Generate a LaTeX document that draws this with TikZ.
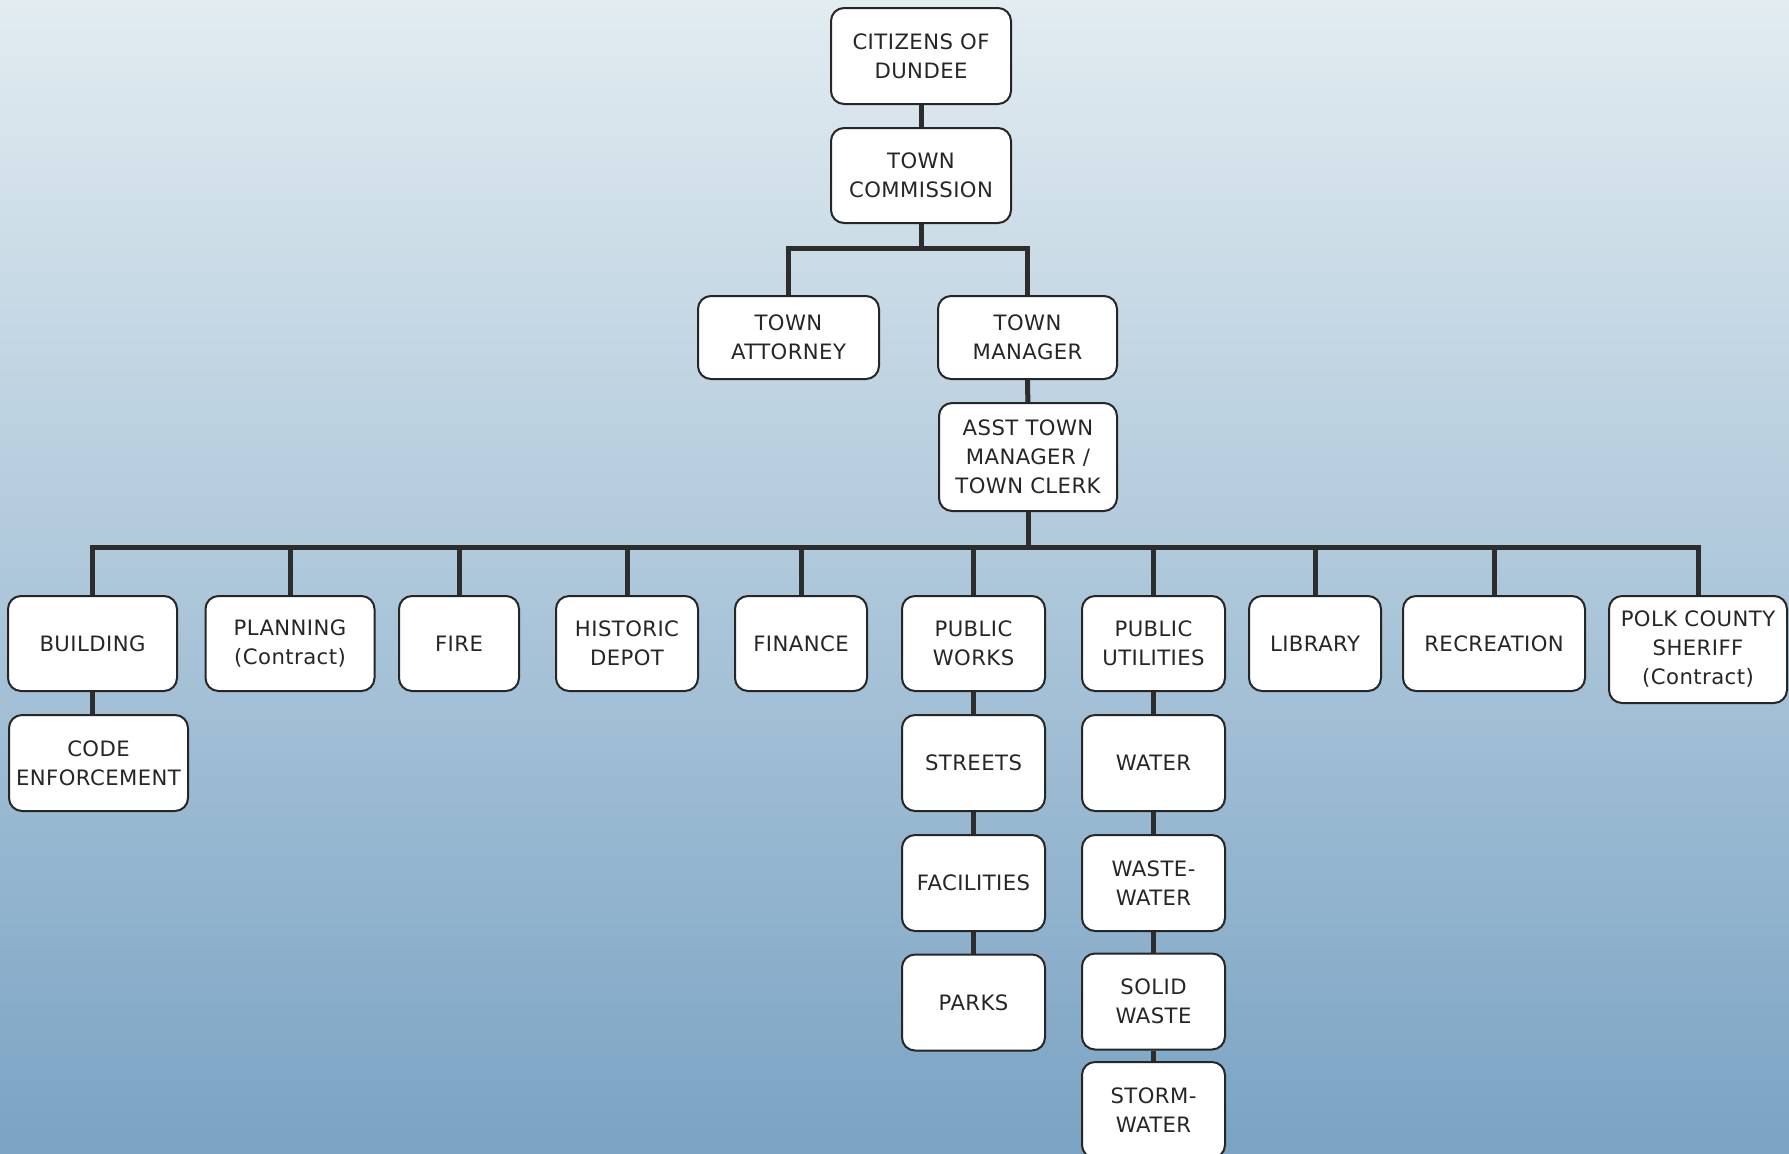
\documentclass[tikz,border=0pt]{standalone}
\usepackage{fontspec}
\setmainfont{DejaVu Sans}[LetterSpace=2]
\usepackage{xcolor}
\usepackage{tikz}

\definecolor{skytop}{RGB}{226,236,241}
\definecolor{skymid}{RGB}{172,198,215}
\definecolor{skybot}{RGB}{122,163,196}
\definecolor{linkgray}{RGB}{45,45,45}

\tikzset{
unit/.style={draw=black!85, line width=1pt, fill=white, rounded corners=6.5pt, align=center, inner sep=0pt, text=black!85, font=\fontsize{10.6}{14.5}\selectfont},
link/.style={draw=linkgray, line width=2.5pt}
}

\begin{document}
\begin{tikzpicture}[x=0.5pt,y=-0.5pt]
\fill[top color=skytop, middle color=skymid, bottom color=skybot] (0,0) rectangle (1789,1153);
\useasboundingbox (0,0) rectangle (1789,1153);

\node[unit, minimum width=90pt, minimum height=48pt] (citizens) at (921,56) {CITIZENS OF\\DUNDEE};
\node[unit, minimum width=90pt, minimum height=47.5pt] (commission) at (921,175.5) {TOWN\\COMMISSION};
\node[unit, minimum width=90.5pt, minimum height=41.5pt] (attorney) at (788.5,337.5) {TOWN\\ATTORNEY};
\node[unit, minimum width=89.5pt, minimum height=41.5pt] (manager) at (1027.5,337.5) {TOWN\\MANAGER};
\node[unit, minimum width=89pt, minimum height=54pt] (asst) at (1028,457) {ASST TOWN\\MANAGER /\\TOWN CLERK};

\foreach \n/\x/\w/\t in {building/92.5/169/BUILDING, planning/290/169/{PLANNING\\(Contract)}, fire/459/120/FIRE, depot/627/142/{HISTORIC\\DEPOT}, finance/801/132/FINANCE, works/973.5/143/{PUBLIC\\WORKS}, utilities/1153.5/143/{PUBLIC\\UTILITIES}, library/1315/132/LIBRARY, recreation/1494/182/RECREATION} {
\node[unit, minimum width=\w*0.5pt, minimum height=47.5pt] (\n) at (\x,643.5) {\t};
}
\node[unit, minimum width=89pt, minimum height=53.5pt] (sheriff) at (1698,649.5) {POLK COUNTY\\SHERIFF\\(Contract)};

\node[unit, minimum width=89.5pt, minimum height=48pt] (code) at (98.5,763) {CODE\\ENFORCEMENT};
\foreach \n/\y/\t in {streets/763/STREETS, facilities/883/FACILITIES, parks/1002.5/PARKS} {
\node[unit, minimum width=71.5pt, minimum height=48pt] (\n) at (973.5,\y) {\t};
}
\foreach \n/\y/\t in {water/763/WATER, wastewater/883/{WASTE-\\WATER}, solid/1001.5/{SOLID\\WASTE}, storm/1110/{STORM-\\WATER}} {
\node[unit, minimum width=71.5pt, minimum height=48pt] (\n) at (1153.5,\y) {\t};
}

\coordinate (split) at (921,248);
\coordinate (hub) at (1028,547);
\draw[link] (citizens) -- (commission);
\draw[link] (commission) -- (split);
\draw[link] (attorney.north) -- (attorney.north |- split) -| (manager.north);
\draw[link] (manager) -- (asst);
\draw[link] (asst) -- (hub);
\draw[link] (building.north) -- (building.north |- hub) -- (sheriff.north |- hub) -- (sheriff.north);
\foreach \n in {planning, fire, depot, finance, works, utilities, library, recreation} {
\draw[link] (\n.north) -- (\n.north |- hub);
}
\foreach \a/\b in {building/code, works/streets, streets/facilities, facilities/parks, utilities/water, water/wastewater, wastewater/solid, solid/storm} {
\draw[link] (\a.south) -- (\a.south |- \b.north);
}

\end{tikzpicture}
\end{document}
